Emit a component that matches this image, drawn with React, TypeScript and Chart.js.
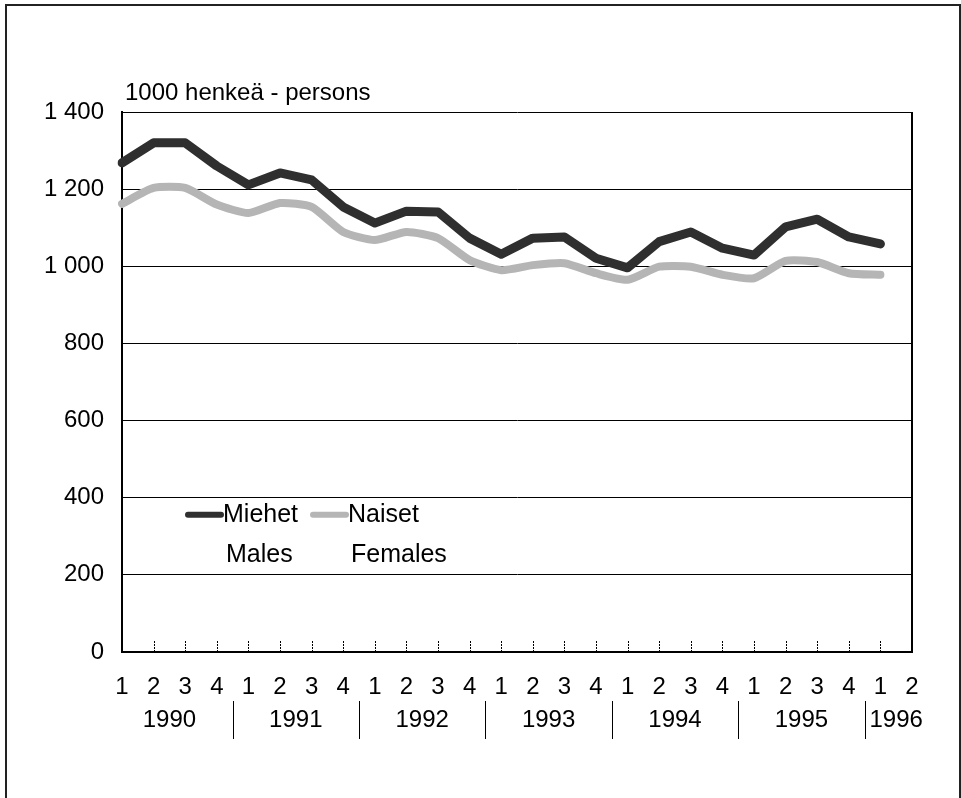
import React, { useEffect, useRef } from "react";
import { Chart, registerables } from "chart.js";

Chart.register(...registerables);

const quarterLabels = [
  "1", "2", "3", "4", "1", "2", "3", "4", "1", "2", "3", "4", "1",
  "2", "3", "4", "1", "2", "3", "4", "1", "2", "3", "4", "1", "2",
];
const years = ["1990", "1991", "1992", "1993", "1994", "1995", "1996"];
const males = [
  1268, 1320, 1320, 1260, 1211, 1242, 1224, 1154, 1112, 1143, 1141, 1073,
  1031, 1073, 1076, 1021, 996, 1064, 1089, 1047, 1029, 1102, 1122, 1076, 1058, null,
];
const females = [
  1162, 1203, 1203, 1160, 1138, 1164, 1154, 1089, 1068, 1089, 1073, 1016,
  990, 1003, 1008, 982, 965, 999, 999, 978, 969, 1014, 1011, 982, 978, null,
];
const yTicks = [0, 200, 400, 600, 800, 1000, 1200, 1400];
const titleText = "1000 henkeä - persons";
const legendItems = [
  { top: "Miehet", bottom: "Males" },
  { top: "Naiset", bottom: "Females" },
];

const FONT = "'Liberation Sans', Arial, sans-serif";
const MALE_COLOR = "#2f2f2f";
const FEMALE_COLOR = "#b5b5b5";

const decorPlugin = {
  id: "decor",
  afterDraw(chart: any) {
    const ctx = chart.ctx;
    const x = chart.scales.x;
    const y = chart.scales.y;
    const area = chart.chartArea;
    ctx.save();
    // right border
    ctx.strokeStyle = "#000";
    ctx.lineWidth = 2;
    ctx.beginPath();
    ctx.moveTo(area.right, area.top);
    ctx.lineTo(area.right, area.bottom);
    ctx.stroke();
    // inner ticks
    ctx.lineWidth = 1;
    ctx.setLineDash([2, 1]);
    for (let i = 1; i < quarterLabels.length - 1; i++) {
      const px = Math.round(x.getPixelForValue(i)) + 0.5;
      ctx.beginPath();
      ctx.moveTo(px, area.bottom);
      ctx.lineTo(px, area.bottom - 11);
      ctx.stroke();
    }
    ctx.setLineDash([]);
    // title
    ctx.fillStyle = "#000";
    ctx.font = `24px ${FONT}`;
    ctx.textAlign = "left";
    ctx.textBaseline = "middle";
    ctx.fillText(titleText, area.left + 3, 93);
    // year labels and separators
    ctx.textAlign = "center";
    years.forEach((yr, k) => {
      const i0 = k * 4;
      const i1 = Math.min(k * 4 + 3, quarterLabels.length - 1);
      const cx = (x.getPixelForValue(i0) + x.getPixelForValue(i1)) / 2;
      ctx.fillText(yr, cx, 720);
      if (k > 0) {
        const sx = Math.round((x.getPixelForValue(i0 - 1) + x.getPixelForValue(i0)) / 2) + 0.5;
        ctx.beginPath();
        ctx.moveTo(sx, 701);
        ctx.lineTo(sx, 739);
        ctx.stroke();
      }
    });
    // legend
    const lx = [188, 313];
    const colors = [MALE_COLOR, FEMALE_COLOR];
    const ly = y.getPixelForValue(400) + 17;
    ctx.font = `25px ${FONT}`;
    ctx.textAlign = "left";
    legendItems.forEach((item, k) => {
      ctx.strokeStyle = colors[k];
      ctx.lineWidth = 6;
      ctx.lineCap = "round";
      ctx.beginPath();
      ctx.moveTo(lx[k], ly);
      ctx.lineTo(lx[k] + 33, ly);
      ctx.stroke();
      ctx.fillStyle = "#000";
      ctx.fillText(item.top, lx[k] + 35, ly);
      ctx.fillText(item.bottom, lx[k] + 38, ly + 40);
    });
    ctx.restore();
  },
};

export default function App() {
  const ref = useRef<HTMLCanvasElement | null>(null);
  useEffect(() => {
    if (!ref.current) return;
    const chart = new Chart(ref.current, {
      type: "line",
      data: {
        labels: quarterLabels,
        datasets: [
          {
            label: "Miehet Males",
            data: males,
            borderColor: MALE_COLOR,
            borderWidth: 9,
            pointRadius: 0,
            tension: 0,
            borderJoinStyle: "round",
            borderCapStyle: "round",
          },
          {
            label: "Naiset Females",
            data: females,
            borderColor: FEMALE_COLOR,
            borderWidth: 8,
            pointRadius: 0,
            tension: 0.2,
            borderJoinStyle: "round",
            borderCapStyle: "round",
          },
        ],
      },
      options: {
        animation: false,
        responsive: false,
        maintainAspectRatio: false,
        layout: { padding: { top: 112, right: 49, bottom: 76, left: 0 } },
        plugins: { legend: { display: false }, tooltip: { enabled: false }, title: { display: false } },
        scales: {
          x: {
            type: "category",
            offset: false,
            afterFit: (s: any) => { s.height = 70; },
            grid: { display: false, drawTicks: false, tickLength: 0 },
            border: { display: true, color: "#000", width: 2 },
            ticks: {
              autoSkip: false,
              maxRotation: 0,
              padding: 21,
              color: "#000",
              font: { family: FONT, size: 24 },
            },
          },
          y: {
            min: 0,
            max: 1400,
            afterFit: (s: any) => { s.width = 122; },
            afterBuildTicks: (s: any) => { s.ticks = yTicks.map((v) => ({ value: v })); },
            grid: { color: "#000", lineWidth: 1, drawTicks: false, tickLength: 0 },
            border: { display: true, color: "#000", width: 2 },
            ticks: {
              padding: 18,
              color: "#000",
              font: { family: FONT, size: 24 },
              callback: (v: any) => String(v).replace(/\B(?=(\d{3})+(?!\d))/g, " "),
            },
          },
        },
      },
      plugins: [decorPlugin],
    });
    return () => chart.destroy();
  }, []);
  return (
    <div style={{ position: "fixed", left: 0, top: 0, width: 961, height: 798, background: "#fff", overflow: "hidden" }}>
      <div
        style={{
          position: "absolute",
          left: 5,
          top: 4,
          width: 956,
          height: 840,
          boxSizing: "border-box",
          border: "2px solid #222",
          pointerEvents: "none",
        }}
      />
      <canvas ref={ref} width={961} height={798} style={{ position: "absolute", left: 0, top: 0 }} />
    </div>
  );
}
